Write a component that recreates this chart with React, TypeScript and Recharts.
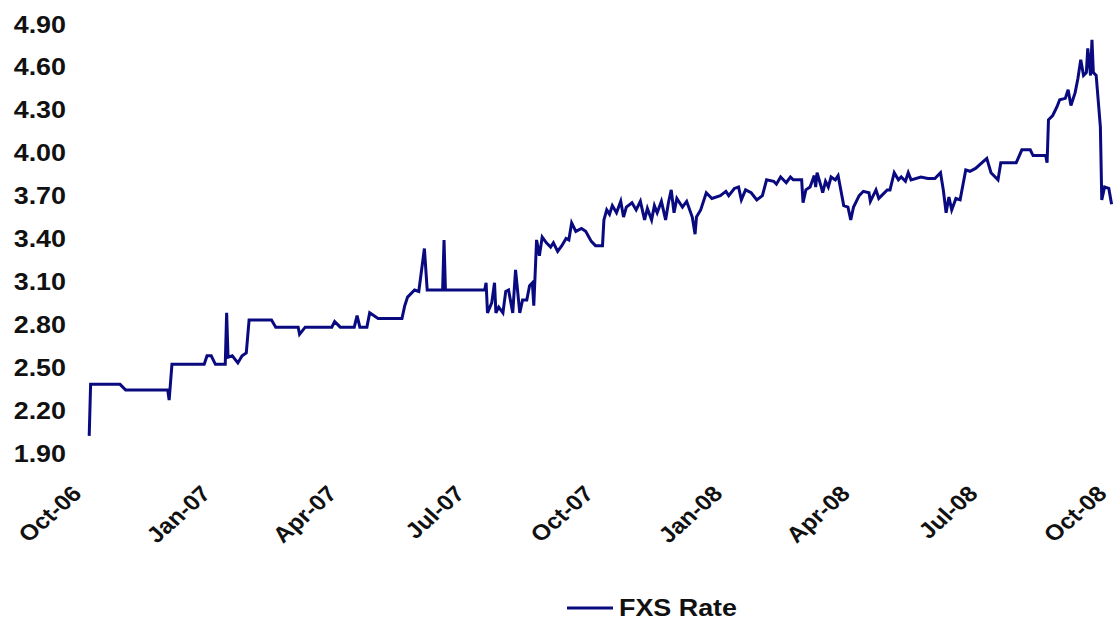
import React from 'react';
import { LineChart, Line, XAxis, YAxis, Legend } from 'recharts';

// observation dates and FXS rate readings
const dates = [
  '2006-10-04', '2006-10-05', '2006-10-26', '2006-10-30', '2006-11-29', '2006-11-30', '2006-12-02', '2006-12-25',
  '2006-12-27', '2006-12-30', '2007-01-02', '2007-01-09', '2007-01-10', '2007-01-11', '2007-01-14', '2007-01-18',
  '2007-01-21', '2007-01-24', '2007-01-26', '2007-02-11', '2007-02-14', '2007-03-02', '2007-03-03', '2007-03-07',
  '2007-03-26', '2007-03-28', '2007-04-01', '2007-04-11', '2007-04-13', '2007-04-15', '2007-04-20', '2007-04-22',
  '2007-04-28', '2007-05-15', '2007-05-17', '2007-05-19', '2007-05-24', '2007-05-27', '2007-05-31', '2007-06-02',
  '2007-06-13', '2007-06-14', '2007-06-15', '2007-07-13', '2007-07-14', '2007-07-15', '2007-07-18', '2007-07-20',
  '2007-07-21', '2007-07-23', '2007-07-26', '2007-07-28', '2007-07-30', '2007-08-02', '2007-08-04', '2007-08-07',
  '2007-08-09', '2007-08-12', '2007-08-14', '2007-08-16', '2007-08-17', '2007-08-19', '2007-08-21', '2007-08-23',
  '2007-08-26', '2007-08-29', '2007-08-31', '2007-09-03', '2007-09-06', '2007-09-09', '2007-09-11', '2007-09-13',
  '2007-09-16', '2007-09-20', '2007-09-23', '2007-09-27', '2007-09-30', '2007-10-05', '2007-10-06', '2007-10-08',
  '2007-10-10', '2007-10-12', '2007-10-15', '2007-10-18', '2007-10-20', '2007-10-22', '2007-10-26', '2007-10-29',
  '2007-11-01', '2007-11-04', '2007-11-06', '2007-11-09', '2007-11-11', '2007-11-13', '2007-11-16', '2007-11-19',
  '2007-11-21', '2007-11-23', '2007-11-25', '2007-11-27', '2007-12-01', '2007-12-04', '2007-12-08', '2007-12-10',
  '2007-12-11', '2007-12-14', '2007-12-18', '2007-12-22', '2007-12-28', '2008-01-01', '2008-01-03', '2008-01-07',
  '2008-01-10', '2008-01-12', '2008-01-15', '2008-01-19', '2008-01-23', '2008-01-27', '2008-01-30', '2008-02-04',
  '2008-02-06', '2008-02-09', '2008-02-13', '2008-02-16', '2008-02-18', '2008-02-24', '2008-02-25', '2008-02-27',
  '2008-03-01', '2008-03-04', '2008-03-05', '2008-03-06', '2008-03-09', '2008-03-10', '2008-03-12', '2008-03-14',
  '2008-03-16', '2008-03-19', '2008-03-21', '2008-03-25', '2008-03-28', '2008-03-30', '2008-04-01', '2008-04-05',
  '2008-04-08', '2008-04-12', '2008-04-13', '2008-04-17', '2008-04-19', '2008-04-21', '2008-04-25', '2008-04-27',
  '2008-04-30', '2008-05-03', '2008-05-05', '2008-05-08', '2008-05-10', '2008-05-12', '2008-05-19', '2008-05-24',
  '2008-05-29', '2008-06-02', '2008-06-04', '2008-06-06', '2008-06-08', '2008-06-10', '2008-06-13', '2008-06-16',
  '2008-06-20', '2008-06-23', '2008-06-27', '2008-07-05', '2008-07-08', '2008-07-13', '2008-07-15', '2008-07-26',
  '2008-07-30', '2008-08-05', '2008-08-07', '2008-08-16', '2008-08-17', '2008-08-18', '2008-08-21', '2008-08-24',
  '2008-08-26', '2008-08-30', '2008-09-01', '2008-09-03', '2008-09-06', '2008-09-08', '2008-09-10', '2008-09-12',
  '2008-09-14', '2008-09-15', '2008-09-17', '2008-09-18', '2008-09-19', '2008-09-21', '2008-09-24', '2008-09-25',
  '2008-09-27', '2008-09-30', '2008-10-02'
];

const rates = [
  2.02, 2.38, 2.38, 2.34, 2.34, 2.27, 2.52, 2.52,
  2.58, 2.58, 2.52, 2.52, 2.88, 2.57, 2.58, 2.53,
  2.58, 2.60, 2.83, 2.83, 2.78, 2.78, 2.73, 2.78,
  2.78, 2.82, 2.78, 2.78, 2.86, 2.78, 2.78, 2.88,
  2.84, 2.84, 2.93, 2.99, 3.04, 3.03, 3.33, 3.04,
  3.04, 3.39, 3.04, 3.04, 3.09, 2.88, 2.95, 3.09,
  2.88, 2.92, 2.88, 3.03, 3.04, 2.88, 3.18, 2.88,
  2.97, 2.97, 3.07, 3.09, 2.93, 3.39, 3.28, 3.41,
  3.37, 3.34, 3.37, 3.31, 3.35, 3.40, 3.39, 3.51,
  3.45, 3.47, 3.45, 3.38, 3.35, 3.35, 3.53, 3.60,
  3.57, 3.63, 3.58, 3.66, 3.55, 3.62, 3.65, 3.60,
  3.66, 3.53, 3.61, 3.53, 3.63, 3.58, 3.66, 3.53,
  3.65, 3.74, 3.58, 3.68, 3.62, 3.66, 3.55, 3.43,
  3.55, 3.60, 3.72, 3.68, 3.70, 3.73, 3.70, 3.75,
  3.76, 3.67, 3.74, 3.72, 3.67, 3.70, 3.81, 3.80,
  3.78, 3.83, 3.79, 3.83, 3.81, 3.81, 3.65, 3.74,
  3.76, 3.84, 3.76, 3.86, 3.76, 3.72, 3.80, 3.76,
  3.83, 3.81, 3.84, 3.63, 3.62, 3.53, 3.62, 3.70,
  3.73, 3.72, 3.66, 3.74, 3.68, 3.70, 3.74, 3.74,
  3.86, 3.81, 3.83, 3.80, 3.86, 3.81, 3.83, 3.82,
  3.82, 3.86, 3.74, 3.58, 3.69, 3.60, 3.68, 3.67,
  3.88, 3.87, 3.89, 3.96, 3.86, 3.81, 3.93, 3.93,
  4.02, 4.02, 3.98, 3.98, 3.93, 4.23, 4.26, 4.32,
  4.37, 4.38, 4.44, 4.33, 4.42, 4.52, 4.65, 4.54,
  4.56, 4.73, 4.54, 4.79, 4.56, 4.54, 4.18, 3.67,
  3.76, 3.75, 3.64
];

const xTicks = ['2006-10-01', '2007-01-01', '2007-04-01', '2007-07-01', '2007-10-01', '2008-01-01', '2008-04-01', '2008-07-01', '2008-10-01'];
const yTicks = [1.9, 2.2, 2.5, 2.8, 3.1, 3.4, 3.7, 4.0, 4.3, 4.6, 4.9];
const monthNames = ['Jan', 'Feb', 'Mar', 'Apr', 'May', 'Jun', 'Jul', 'Aug', 'Sep', 'Oct', 'Nov', 'Dec'];

const toTime = (s: string) => {
  const [y, m, d] = s.split('-').map(Number);
  return Date.UTC(y, m - 1, d);
};

const data = dates.map((d, i) => ({ t: toTime(d), rate: rates[i] }));
const tickTimes = xTicks.map(toTime);

const fmtDate = (t: number) => {
  const d = new Date(t);
  return `${monthNames[d.getUTCMonth()]}-${String(d.getUTCFullYear()).slice(2)}`;
};

const FONT = 'Arial, "Liberation Sans", Helvetica, sans-serif';
const NAVY = '#0a0a80';
const STRETCH = 1.12; // the original text looks a bit wide

const DateTick = (props: any) => {
  const { x, y, payload } = props;
  return (
    <g transform={`translate(${x - 2},${y + 42}) scale(${STRETCH},1) rotate(-45)`}>
      <text x={0} y={0} textAnchor="end" fontFamily={FONT} fontWeight="bold" fontSize={22} fill="#111">
        {fmtDate(payload.value)}
      </text>
    </g>
  );
};

const RateTick = (props: any) => {
  const { x, y, payload } = props;
  return (
    <g transform={`translate(${x},${y}) scale(${STRETCH},1)`}>
      <text x={0} y={0} dy="0.355em" textAnchor="end" fontFamily={FONT} fontWeight="bold" fontSize={24} fill="#111">
        {Number(payload.value).toFixed(2)}
      </text>
    </g>
  );
};

const LegendContent = () => (
  <div style={{ height: 40, display: 'flex', alignItems: 'center', paddingLeft: 567, paddingTop: 10, boxSizing: 'border-box' }}>
    <svg width={46} height={6} style={{ marginRight: 6 }}>
      <line x1={0} y1={3} x2={46} y2={3} stroke={NAVY} strokeWidth={3} />
    </svg>
    <span
      style={{
        fontFamily: FONT,
        fontWeight: 'bold',
        fontSize: 24,
        color: '#111',
        display: 'inline-block',
        transform: `scaleX(${STRETCH})`,
        transformOrigin: 'left center'
      }}
    >
      FXS Rate
    </span>
  </div>
);

export default function App() {
  return (
    <div style={{ position: 'absolute', left: 0, top: 0, width: 1116, height: 623, background: '#fff' }}>
      <LineChart width={1116} height={623} data={data} margin={{ top: 24, right: 3, left: 0, bottom: 0 }}>
        <XAxis
          type="number"
          dataKey="t"
          domain={[toTime('2006-10-01'), toTime('2008-10-03')]}
          ticks={tickTimes}
          tick={<DateTick />}
          tickLine={false}
          axisLine={false}
          tickSize={0}
          tickMargin={0}
          height={130}
          interval={0}
        />
        <YAxis
          domain={[1.9, 4.9]}
          ticks={yTicks}
          tick={<RateTick />}
          tickLine={false}
          axisLine={false}
          tickSize={0}
          tickMargin={19}
          width={85}
          interval={0}
        />
        <Legend verticalAlign="bottom" content={<LegendContent />} wrapperStyle={{ left: 0, bottom: 0, width: 1116, height: 40 }} />
        <Line
          type="linear"
          dataKey="rate"
          name="FXS Rate"
          stroke={NAVY}
          strokeWidth={3}
          dot={false}
          activeDot={false}
          isAnimationActive={false}
        />
      </LineChart>
    </div>
  );
}
